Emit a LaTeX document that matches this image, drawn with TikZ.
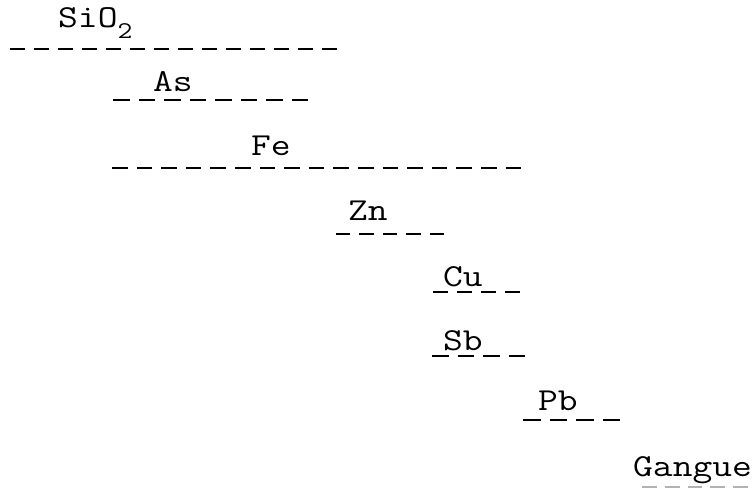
\documentclass[tikz,border=0pt]{standalone}
\usepackage{fontspec}
\usepackage{graphicx}
% typewriter lettering, widened to a typewriter's pitch
\newcommand{\typed}[1]{\scalebox{1.2}[1]{#1}}
\begin{document}
\begin{tikzpicture}[x=1pt,y=-1pt,
  elem/.style={anchor=base west,inner sep=0pt,font=\ttfamily\fontsize{32}{32}\selectfont},
  rule/.style={line width=2.8pt,dash pattern=on #1 off 9pt},
  rule/.default=15pt,
  faint/.style={line width=1.6pt,draw=black!30,dash pattern=on 14.8pt off 8pt}]
\useasboundingbox (0,0) rectangle (754,489);
% element labels
\node[elem] (si) at (58,28) {\typed{SiO}\raisebox{-11pt}{\fontsize{24}{24}\selectfont\typed{2}}};
\node[elem] (as) at (153,92) {\typed{As}};
\node[elem] (fe) at (251,156) {\typed{Fe}};
\node[elem] (zn) at (348,220) {\typed{Zn}};
\node[elem] (cu) at (443,286) {\typed{Cu}};
\node[elem] (sb) at (443,350) {\typed{Sb}};
\node[elem] (pb) at (538,410) {\typed{Pb}};
\node[elem] (ga) at (633,476) {\typed{Gangue}};
% dashed ranges under each label (dash lengths chosen so each ends on a full dash)
\draw[rule] (10,49) -- (337,49);
\draw[rule=16.5pt] (113,100) -- (308,100);
\draw[rule=15.6pt] (112,168) -- (522,168);
\draw[rule=14.4pt] (336,234) -- (444,234);
\draw[rule=15pt] (433,292) -- (520,292);
\draw[rule=16.5pt] (432,356) -- (525,356);
\draw[rule=17.5pt] (523,420) -- (620,420);
\draw[faint] (642,487) -- (748,487);
\end{tikzpicture}
\end{document}
